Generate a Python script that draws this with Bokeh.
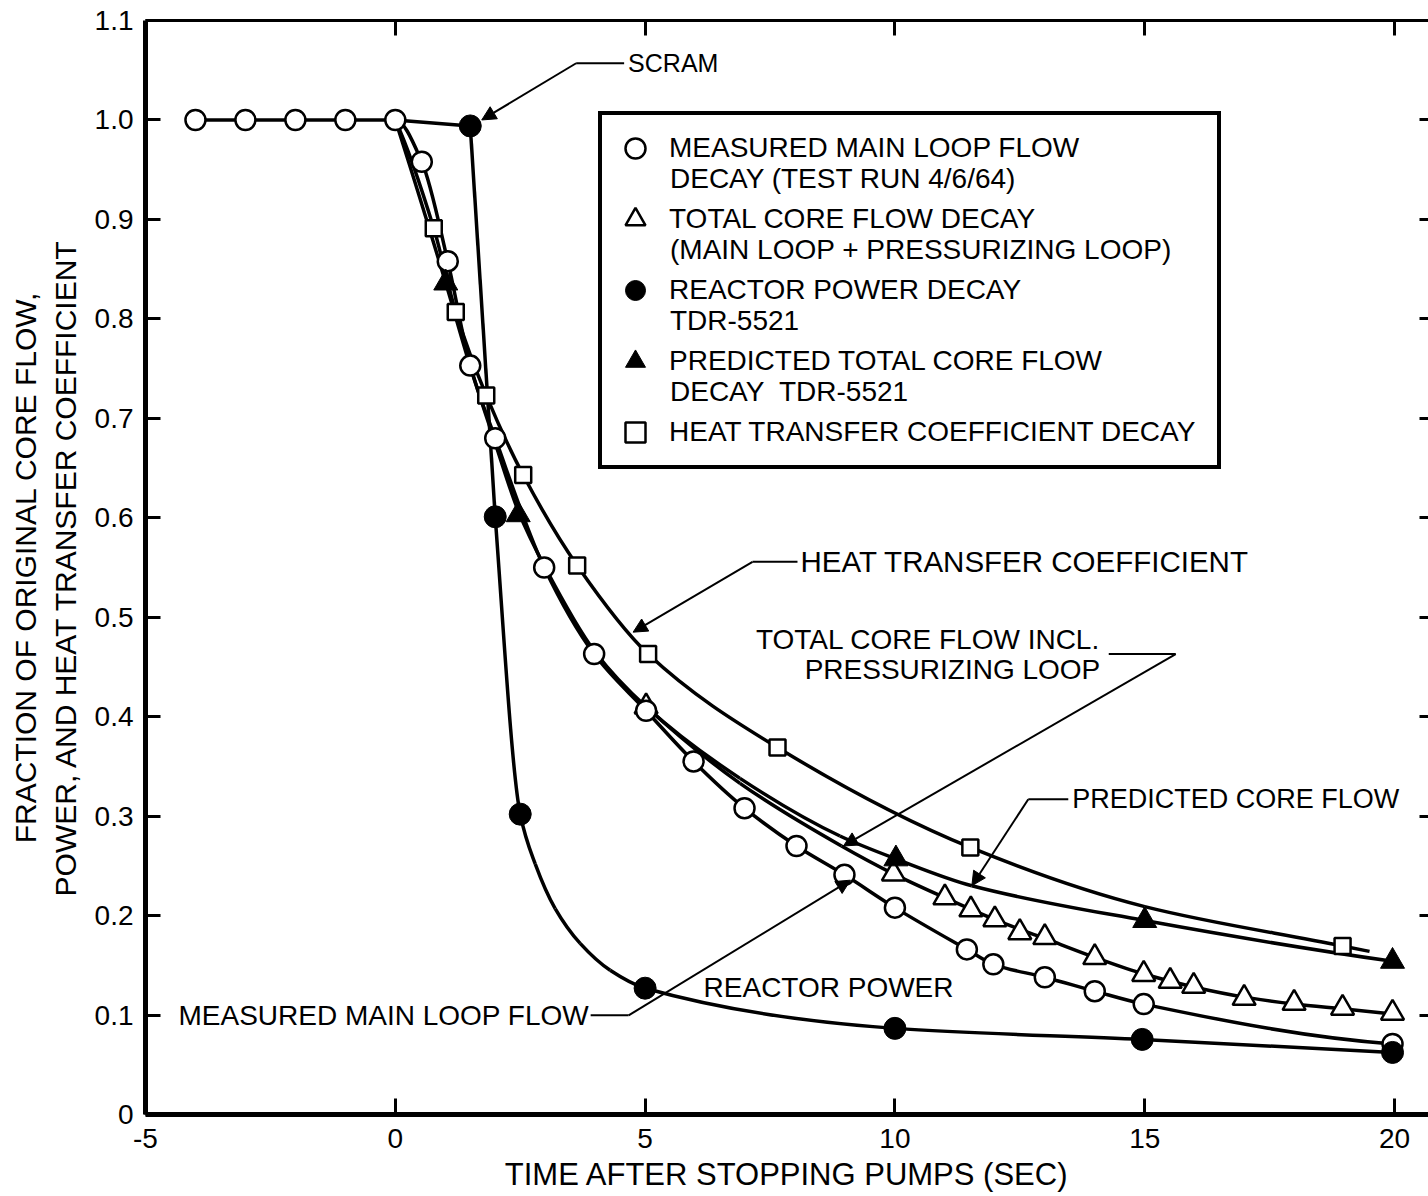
import numpy as np
from bokeh.plotting import figure
from bokeh.models import (Range1d, LinearAxis, FixedTicker, Label, Arrow, NormalHead,
                          Legend, LegendItem, ColumnDataSource, Title)
from bokeh.embed import file_html
from bokeh.resources import INLINE

FONT = "Liberation Sans"

# ---------------- data ----------------
# Measured main loop flow decay (open circles)
meas_x = [-4, -3, -2, -1, 0, 0.53, 1.05, 1.5, 2.0, 2.98, 3.98, 5.02, 5.97, 6.99,
          8.03, 8.99, 10.0, 11.44, 11.97, 13.0, 14.0, 14.98, 19.96]
meas_y = [1.0, 1.0, 1.0, 1.0, 1.0, 0.958, 0.858, 0.753, 0.68, 0.55, 0.463, 0.406, 0.355, 0.308,
          0.27, 0.241, 0.208, 0.166, 0.151, 0.138, 0.124, 0.111, 0.071]

# Total core flow decay (open triangles)
tot_x = [5.02, 9.97, 11.0, 11.52, 12.0, 12.5, 13.0, 14.0, 14.98, 15.51, 15.98, 16.99,
         17.99, 18.96, 19.96]
tot_y = [0.41, 0.242, 0.218, 0.206, 0.196, 0.183, 0.178, 0.158, 0.141, 0.134, 0.129, 0.117,
         0.112, 0.107, 0.102]
tot_curve_x = [5.02, 6.9, 8.93, 9.97, 11.0, 12.0, 13.0, 14.0, 15.0, 16.0, 17.0, 18.0, 19.0, 19.96]
tot_curve_y = [0.41, 0.333, 0.27, 0.242, 0.218, 0.196, 0.177, 0.158, 0.141, 0.128, 0.118,
               0.111, 0.106, 0.101]

# Reactor power decay (filled circles)
pow_x = [1.5, 2.0, 2.5, 5.0, 10.0, 14.95, 19.96]
pow_y = [0.994, 0.601, 0.302, 0.127, 0.0866, 0.0755, 0.0624]
pow_flat_x = [0.0, 1.5]
pow_flat_y = [1.0, 0.994]
pow_curve_x = [1.5, 2.0, 2.5, 2.8, 3.2, 3.7, 4.3, 5.0, 10.0, 14.95, 19.96]
pow_curve_y = [0.994, 0.601, 0.302, 0.252, 0.207, 0.172, 0.145, 0.127, 0.0866, 0.0755, 0.0624]

# Predicted total core flow decay (filled triangles)
pred_x = [1.01, 2.46, 10.02, 15.0, 19.96]
pred_y = [0.836, 0.603, 0.257, 0.195, 0.154]
pred_curve_x = [0.0, 1.01, 1.5, 2.0, 2.46, 3.0, 4.0, 5.02, 6.9, 8.9, 10.02, 11.54, 15.0, 19.96]
pred_curve_y = [1.0, 0.836, 0.752, 0.675, 0.607, 0.55, 0.465, 0.41, 0.338, 0.28, 0.257, 0.23,
                0.195, 0.154]

# Heat transfer coefficient decay (open squares)
heat_x = [0.77, 1.21, 1.82, 2.56, 3.64, 5.06, 7.65, 11.51, 18.96]
heat_y = [0.891, 0.807, 0.723, 0.643, 0.552, 0.463, 0.369, 0.2685, 0.1695]
heat_curve_x = [0.0, 0.77, 1.21, 1.82, 2.56, 3.64, 5.06, 7.65, 11.51, 15.0, 18.96, 19.5]
heat_curve_y = [1.0, 0.891, 0.807, 0.723, 0.643, 0.552, 0.463, 0.369, 0.2685, 0.209, 0.1695, 0.164]

x_ticks = [-5, 0, 5, 10, 15, 20]
x_tick_labels = ["-5", "0", "5", "10", "15", "20"]
y_ticks = [0, 0.1, 0.2, 0.3, 0.4, 0.5, 0.6, 0.7, 0.8, 0.9, 1.0, 1.1]
y_tick_labels = ["0", "0.1", "0.2", "0.3", "0.4", "0.5", "0.6", "0.7", "0.8", "0.9", "1.0", "1.1"]

legend_first_lines = [
    "MEASURED MAIN LOOP FLOW",
    "TOTAL CORE FLOW DECAY",
    "REACTOR POWER DECAY",
    "PREDICTED TOTAL CORE FLOW",
    "HEAT TRANSFER COEFFICIENT DECAY",
]
legend_second_lines = [
    "DECAY (TEST RUN 4/6/64)",
    "(MAIN LOOP + PRESSURIZING LOOP)",
    "TDR-5521",
    "DECAY  TDR-5521",
]


def pchip_bezier(xs, ys):
    """Cubic Hermite (monotone) curve through the points, as Bezier segments."""
    x = np.asarray(xs, float)
    y = np.asarray(ys, float)
    h = np.diff(x)
    d = np.diff(y) / h
    n = len(x)
    m = np.zeros(n)
    for k in range(1, n - 1):
        if d[k - 1] * d[k] > 0:
            w1 = 2 * h[k] + h[k - 1]
            w2 = h[k] + 2 * h[k - 1]
            m[k] = (w1 + w2) / (w1 / d[k - 1] + w2 / d[k])

    def end(h0, h1, d0, d1):
        mm = ((2 * h0 + h1) * d0 - h0 * d1) / (h0 + h1)
        if np.sign(mm) != np.sign(d0):
            mm = 0.0
        elif np.sign(d0) != np.sign(d1) and abs(mm) > 3 * abs(d0):
            mm = 3 * d0
        return mm

    if n > 2:
        m[0] = end(h[0], h[1], d[0], d[1])
        m[-1] = end(h[-1], h[-2], d[-1], d[-2])
    else:
        m[0] = m[-1] = d[0]
    return ColumnDataSource(dict(
        x0=x[:-1], y0=y[:-1], x1=x[1:], y1=y[1:],
        cx0=x[:-1] + h / 3, cy0=y[:-1] + m[:-1] * h / 3,
        cx1=x[1:] - h / 3, cy1=y[1:] - m[1:] * h / 3))


p = figure(width=1428, height=1196, x_range=Range1d(-5, 20.68), y_range=Range1d(0, 1.1),
           output_backend="svg", toolbar_location=None,
           min_border_left=145, min_border_right=0, min_border_top=20, min_border_bottom=81,
           background_fill_color="white", border_fill_color="white")
p.grid.visible = False
p.outline_line_color = None

# bottom axis
xa = p.xaxis[0]
xa.ticker = FixedTicker(ticks=x_ticks)
xa.major_label_overrides = dict(zip(x_ticks, x_tick_labels))
xa.axis_line_width = 5
xa.major_tick_in = 16
xa.major_tick_out = 0
xa.major_tick_line_width = 3
xa.minor_tick_line_color = None
xa.major_label_text_font = FONT
xa.major_label_text_font_size = "28px"
xa.major_label_text_color = "black"
xa.major_label_standoff = 14

p.add_layout(Title(text="TIME AFTER STOPPING PUMPS (SEC)", align="center", text_font=FONT,
                   text_font_size="31px", text_font_style="normal", text_color="black",
                   standoff=9, offset=0), "below")

# left axis
ya = p.yaxis[0]
ya.ticker = FixedTicker(ticks=y_ticks)
ya.major_label_overrides = dict(zip(y_ticks, y_tick_labels))
ya.axis_line_width = 5
ya.major_tick_in = 15
ya.major_tick_out = 0
ya.major_tick_line_width = 3
ya.minor_tick_line_color = None
ya.major_label_text_font = FONT
ya.major_label_text_font_size = "28px"
ya.major_label_text_color = "black"
ya.major_label_standoff = 12
ya.axis_label = "FRACTION OF ORIGINAL CORE FLOW,\nPOWER, AND HEAT TRANSFER COEFFICIENT"
ya.axis_label_text_font = FONT
ya.axis_label_text_font_size = "30px"
ya.axis_label_text_font_style = "normal"
ya.axis_label_text_color = "black"
ya.axis_label_standoff = 10

# top and right axes (frame line and ticks only)
ta = LinearAxis(ticker=FixedTicker(ticks=x_ticks[1:]), major_tick_in=15, major_tick_out=0,
                major_tick_line_width=3, minor_tick_line_color=None,
                axis_line_width=3, axis_line_color="black",
                major_label_overrides={t: "" for t in x_ticks[1:]},
                major_label_text_font_size="1px", major_label_standoff=0)
p.add_layout(ta, "above")
ra = LinearAxis(ticker=FixedTicker(ticks=y_ticks[1:-1]), major_tick_in=9, major_tick_out=0,
                major_tick_line_width=3, minor_tick_line_color=None, axis_line_color=None,
                major_label_overrides={t: "" for t in y_ticks[1:-1]},
                major_label_text_font_size="1px", major_label_standoff=0)
p.add_layout(ra, "right")

LW = 3.5
BZ = dict(x0="x0", y0="y0", x1="x1", y1="y1", cx0="cx0", cy0="cy0", cx1="cx1", cy1="cy1",
          line_color="black", line_width=LW)
# curves
p.bezier(source=pchip_bezier(heat_curve_x, heat_curve_y), **BZ)
p.bezier(source=pchip_bezier(pred_curve_x, pred_curve_y), **BZ)
p.bezier(source=pchip_bezier(tot_curve_x, tot_curve_y), **BZ)
p.bezier(source=pchip_bezier(meas_x, meas_y), **BZ)
p.line(pow_flat_x, pow_flat_y, line_color="black", line_width=LW)
p.bezier(source=pchip_bezier(pow_curve_x, pow_curve_y), **BZ)

# markers
r_heat = p.scatter(heat_x, heat_y, marker="square", size=16, fill_color="white",
                   line_color="black", line_width=2.5)
r_tot = p.scatter(tot_x, tot_y, marker="triangle", size=23, fill_color="white",
                  line_color="black", line_width=2.5)
r_meas = p.scatter(meas_x, meas_y, marker="circle", size=20, fill_color="white",
                   line_color="black", line_width=2.5)
r_pred = p.scatter(pred_x, pred_y, marker="triangle", size=24, fill_color="black",
                   line_color="black", line_width=1)
r_pow = p.scatter(pow_x, pow_y, marker="circle", size=22, fill_color="black",
                  line_color="black", line_width=1)
r_blank = p.scatter(x=[], y=[], marker="circle", size=1, fill_alpha=0, line_alpha=0)

# annotations
TXT = dict(text_font=FONT, text_font_size="28px", text_color="black", text_baseline="middle")


def leader(x0, y0, x1, y1, head=False):
    a = Arrow(x_start=x0, y_start=y0, x_end=x1, y_end=y1, line_width=2, line_color="black",
              end=NormalHead(size=14, fill_color="black", line_color="black") if head else None)
    p.add_layout(a)


p.add_layout(Label(x=4.66, y=1.057, text="SCRAM", text_font=FONT, text_font_size="25px",
                   text_color="black", text_baseline="middle"))
leader(3.62, 1.057, 4.58, 1.057)
leader(3.62, 1.057, 1.73, 1.0, head=True)

p.add_layout(Label(x=8.11, y=0.5557, text="HEAT TRANSFER COEFFICIENT", text_font=FONT,
                   text_font_size="29.5px", text_color="black", text_baseline="middle"))
leader(7.15, 0.5557, 8.05, 0.5557)
leader(7.15, 0.5557, 4.76, 0.485, head=True)

p.add_layout(Label(x=14.11, y=0.4772, text="TOTAL CORE FLOW INCL.", text_align="right", **TXT))
p.add_layout(Label(x=14.11, y=0.447, text="PRESSURIZING LOOP", text_align="right", **TXT))
leader(14.28, 0.463, 15.62, 0.463)
leader(15.62, 0.463, 8.97, 0.27, head=True)

p.add_layout(Label(x=13.55, y=0.317, text="PREDICTED CORE FLOW", text_font=FONT,
                   text_font_size="27px", text_color="black", text_baseline="middle"))
leader(12.67, 0.317, 13.47, 0.317)
leader(12.67, 0.317, 11.54, 0.23, head=True)

p.add_layout(Label(x=6.17, y=0.128, text="REACTOR POWER", **TXT))

p.add_layout(Label(x=-4.34, y=0.0997, text="MEASURED MAIN LOOP FLOW", **TXT))
leader(3.91, 0.0997, 4.67, 0.0997)
leader(4.67, 0.0997, 9.11, 0.2356, head=True)

LEG = dict(label_text_font=FONT, label_text_font_size="28px", label_text_color="black",
           glyph_width=50, glyph_height=50, label_standoff=9, padding=8, spacing=21, margin=0)

legend_main = Legend(items=[
    LegendItem(label=legend_first_lines[0], renderers=[r_meas]),
    LegendItem(label=legend_first_lines[1], renderers=[r_tot]),
    LegendItem(label=legend_first_lines[2], renderers=[r_pow]),
    LegendItem(label=legend_first_lines[3], renderers=[r_pred]),
    LegendItem(label=legend_first_lines[4], renderers=[r_heat]),
], location=(453, 645), border_line_color="black", border_line_alpha=1.0, border_line_width=4,
    background_fill_color="white", background_fill_alpha=1.0, label_width=540, **LEG)
p.add_layout(legend_main)

legend_sub = Legend(items=[LegendItem(label=t, renderers=[r_blank]) for t in legend_second_lines],
                    location=(466, 697), border_line_color=None, background_fill_alpha=0.0,
                    **LEG)
p.add_layout(legend_sub)

open("out.html", "w").write(file_html(p, INLINE))
